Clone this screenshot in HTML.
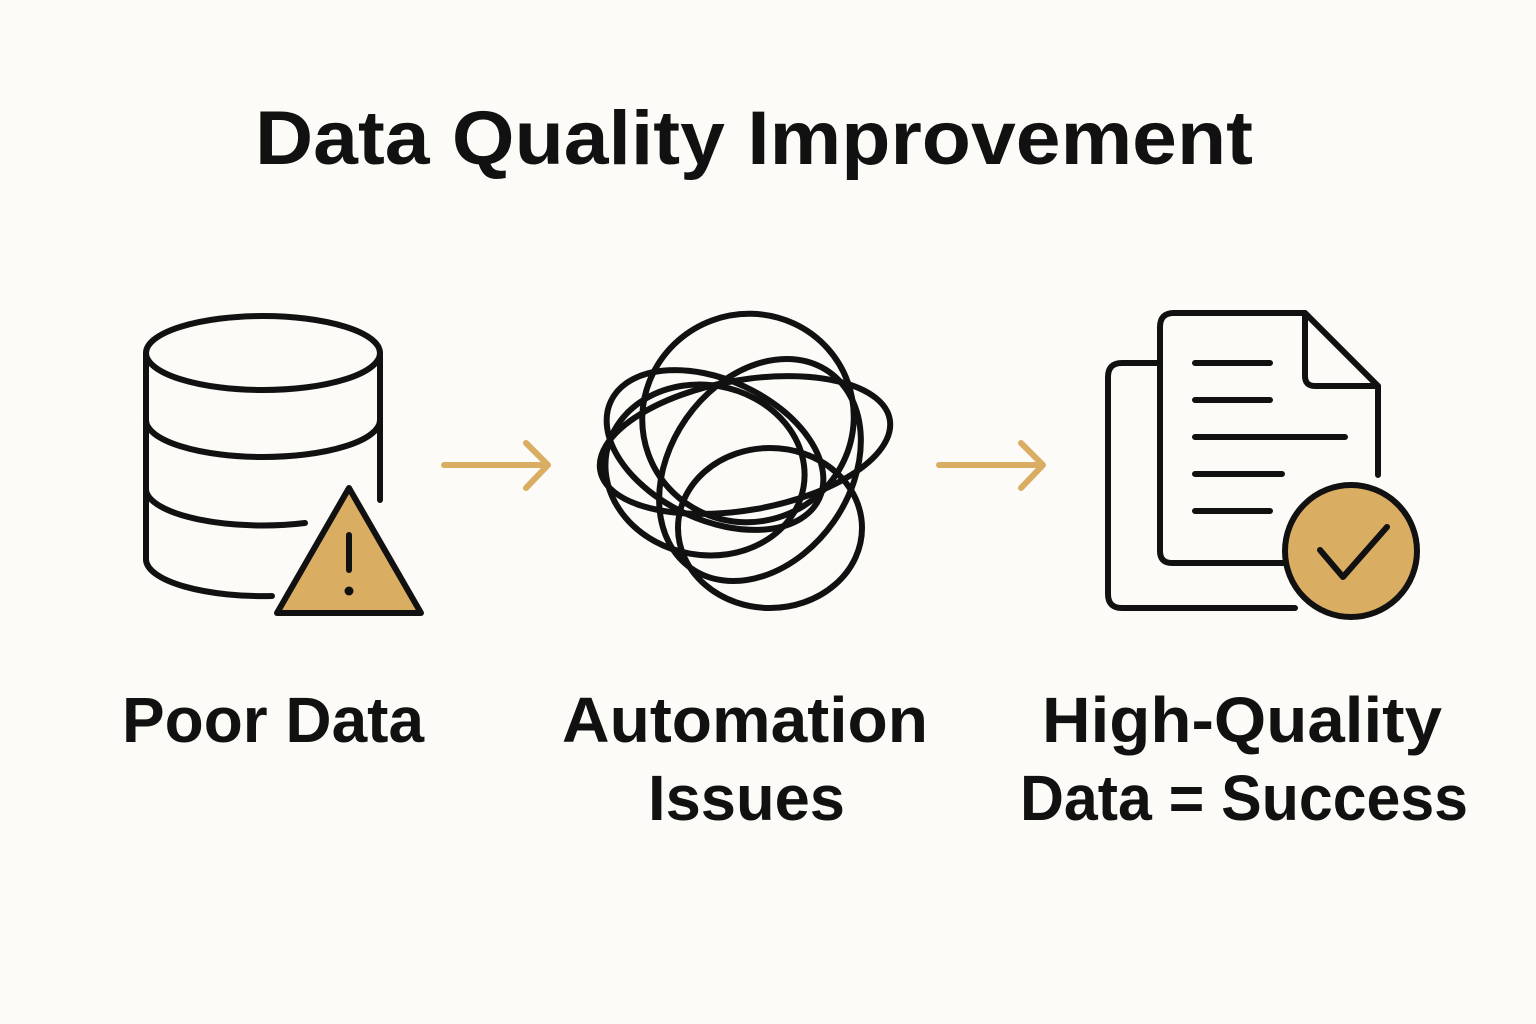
<!DOCTYPE html>
<html><head><meta charset="utf-8"><style>
html,body{margin:0;padding:0;background:#fcfbf8;}
svg{display:block}
text{font-family:"Liberation Sans",sans-serif;font-weight:bold;fill:#111;}
</style></head><body>
<svg width="1536" height="1024" viewBox="0 0 1536 1024">
<rect width="1536" height="1024" fill="#fcfbf8"/>
<text x="255" y="164" font-size="76" textLength="998" lengthAdjust="spacingAndGlyphs">Data Quality Improvement</text>
<g fill="none" stroke="#111" stroke-width="6" stroke-linecap="round" stroke-linejoin="round">
<ellipse cx="263" cy="353" rx="117" ry="37"/>
<path d="M146 353 V560 A117 37 0 0 0 272 596"/>
<path d="M380 353 V500"/>
<path d="M146 420 A117 37 0 0 0 380 420"/>
<path d="M146 490 A117 37 0 0 0 305 523"/>
<ellipse cx="748" cy="418" rx="106" ry="104" transform="rotate(-20 748 418)"/>
<ellipse cx="760" cy="470" rx="90" ry="120" transform="rotate(35 760 470)"/>
<ellipse cx="715" cy="450" rx="115" ry="70" transform="rotate(25 715 450)"/>
<ellipse cx="770" cy="528" rx="92" ry="80"/>
<ellipse cx="745" cy="445" rx="147" ry="65" transform="rotate(-10 745 445)"/>
<ellipse cx="705" cy="470" rx="100" ry="85" transform="rotate(10 705 470)"/>
<path d="M1160 363 H1122 Q1108 363 1108 377 V594 Q1108 608 1122 608 H1295"/>
<path d="M1295 563 H1172 Q1160 563 1160 551 V327 Q1160 313 1174 313 H1305 L1378 386 V475"/>
<path d="M1305 313 V376 Q1305 386 1315 386 H1378"/>
<path d="M1195 363 H1270 M1195 400 H1270 M1195 437 H1345 M1195 474 H1282 M1195 511 H1270"/>
</g>
<polygon points="349,488 277,613 421,613" fill="#d9ad62" stroke="#111" stroke-width="6" stroke-linejoin="round"/>
<line x1="349" y1="535" x2="349" y2="570" stroke="#111" stroke-width="6" stroke-linecap="round"/>
<circle cx="349" cy="591" r="4.5" fill="#111"/>
<circle cx="1351" cy="551" r="66" fill="#d9ad62" stroke="#111" stroke-width="6"/>
<path d="M1320 550 L1343 577 L1387 527" fill="none" stroke="#111" stroke-width="6" stroke-linecap="round" stroke-linejoin="round"/>
<g fill="none" stroke="#d9ad62" stroke-width="6" stroke-linecap="round" stroke-linejoin="round">
<path d="M444 465 H546 M526 443 L548 465 L526 488"/>
<path d="M939 465 H1041 M1021 443 L1043 465 L1021 488"/>
</g>
<text x="122" y="742" font-size="64" textLength="302" lengthAdjust="spacingAndGlyphs">Poor Data</text>
<text x="562" y="742" font-size="64" textLength="366" lengthAdjust="spacingAndGlyphs">Automation</text>
<text x="648" y="820" font-size="64" textLength="197" lengthAdjust="spacingAndGlyphs">Issues</text>
<text x="1042" y="742" font-size="64" textLength="400" lengthAdjust="spacingAndGlyphs">High-Quality</text>
<text x="1020" y="820" font-size="64" textLength="448" lengthAdjust="spacingAndGlyphs">Data = Success</text>
</svg>
</body></html>
